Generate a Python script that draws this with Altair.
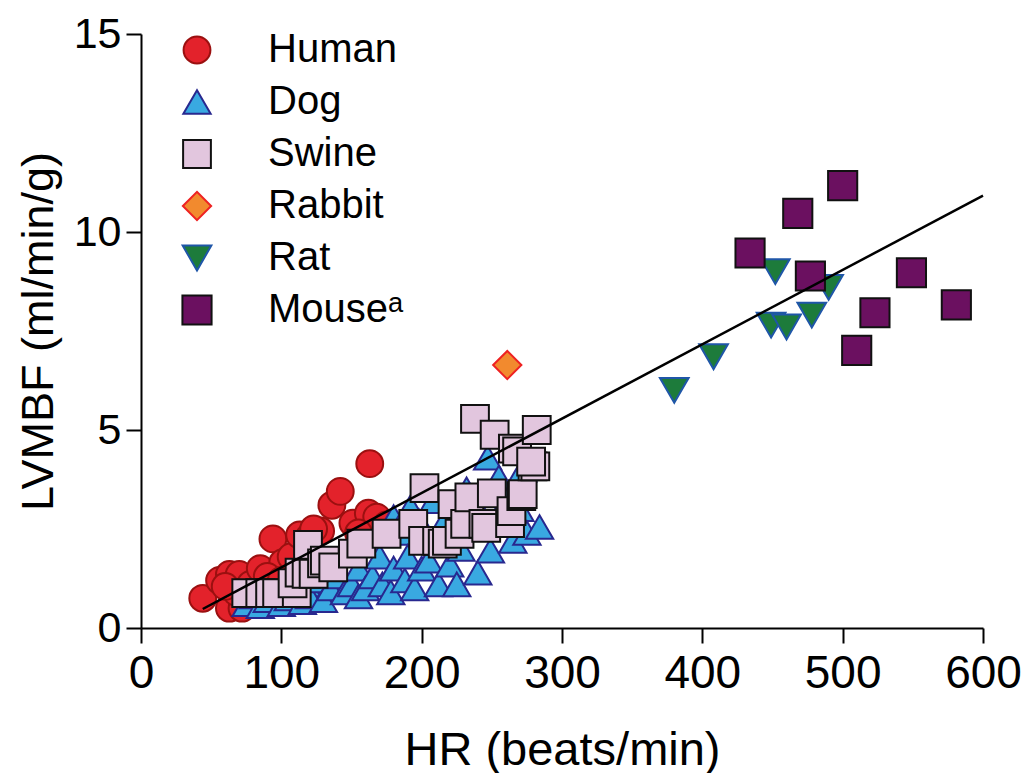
import altair as alt
import pandas as pd

species_order = ["Human", "Dog", "Swine", "Rabbit", "Rat", "Mouseᵃ"]

human_hr = [44, 56, 63, 70, 63, 72, 68, 78, 85, 94, 101, 107, 113, 120, 128, 136, 142, 151,
            163, 162, 168, 123, 90, 80, 155, 175, 100, 60]
human_mbf = [0.75, 1.2, 1.35, 1.35, 0.5, 0.5, 0.9, 1.1, 1.5, 2.25, 1.65, 1.8, 2.35, 2.3, 2.45,
             3.1, 3.45, 2.65, 4.15, 2.9, 2.8, 2.5, 1.3, 0.8, 2.4, 2.6, 1.2, 1.05]

dog_hr = [75, 80, 85, 90, 95, 100, 100, 105, 110, 115, 118, 120, 125, 130, 135, 140, 145, 150,
          155, 155, 160, 165, 170, 172, 178, 180, 185, 188, 190, 195, 198, 200, 205, 208, 210,
          212, 218, 220, 225, 228, 232, 235, 240, 242, 247, 249, 255, 258, 262, 265, 270, 272,
          275, 284, 180, 192]
dog_mbf = [0.6, 0.8, 0.55, 0.7, 0.9, 0.6, 1.0, 0.75, 0.9, 0.65, 1.1, 0.8, 1.2, 0.7, 1.0, 1.3,
           0.9, 1.1, 1.5, 0.8, 1.0, 1.3, 1.8, 1.1, 0.9, 1.5, 2.4, 1.2, 1.8, 1.0, 2.7, 1.5, 1.7,
           3.2, 2.2, 1.1, 2.8, 1.6, 1.1, 2.0, 3.5, 2.5, 1.4, 2.9, 4.3, 1.95, 3.8, 2.6, 3.3, 2.2,
           3.0, 4.0, 2.4, 2.55, 2.8, 3.05]

swine_hr = [75, 85, 92, 97, 111, 108, 113, 118, 123, 119, 129, 131, 137, 151, 157, 175, 194,
            201, 202, 211, 215, 218, 222, 227, 231, 234, 238, 244, 246, 250, 252, 263, 264, 265,
            268, 271, 272, 279, 281, 282, 278]
swine_mbf = [0.88, 0.88, 0.88, 0.88, 0.88, 1.13, 1.4, 1.37, 1.37, 2.1, 1.63, 1.7, 1.53, 1.88,
             2.13, 2.38, 2.63, 2.2, 3.53, 2.2, 2.13, 2.2, 3.13, 2.38, 2.63, 3.3, 5.28, 2.63,
             2.53, 3.4, 4.88, 2.65, 2.95, 4.53, 4.46, 3.33, 3.38, 4.08, 4.08, 5.0, 4.2]

rabbit_hr = [261]
rabbit_mbf = [6.64]

rat_hr = [380, 408, 452, 449, 460, 478, 490]
rat_mbf = [6.0, 6.85, 9.0, 7.65, 7.6, 7.9, 8.6]

mouse_hr = [434, 468, 500, 477, 549, 581, 523, 510]
mouse_mbf = [9.47, 10.47, 11.17, 8.89, 8.97, 8.16, 7.96, 7.01]

line_hr = [44, 600]
line_mbf = [0.48, 10.92]

fills = ["#e3222b", "#39a9e1", "#e2c6de", "#f28a2e", "#1d7b3b", "#6b1060"]
strokes = ["#9b1010", "#28288f", "#111111", "#ee2222", "#1f56a8", "#111111"]
shapes = ["circle", "triangle-up", "square", "diamond", "triangle-down", "square"]
sizes = [720, 850, 560, 900, 950, 560]

groups = [
    (species_order[0], human_hr, human_mbf),
    (species_order[1], dog_hr, dog_mbf),
    (species_order[2], swine_hr, swine_mbf),
    (species_order[3], rabbit_hr, rabbit_mbf),
    (species_order[4], rat_hr, rat_mbf),
    (species_order[5], mouse_hr, mouse_mbf),
]
rows = []
for name, hrs, vals in groups:
    for h, v in zip(hrs, vals):
        rows.append({"species": name, "hr": h, "mbf": v})
df = pd.DataFrame(rows)
line_df = pd.DataFrame({"hr": line_hr, "mbf": line_mbf})

FONT = "Liberation Sans"

legend = alt.Legend(
    orient="none", legendX=36, legendY=-4, title=None,
    labelFontSize=40, labelFont=FONT, labelColor="black", labelOffset=51,
    rowPadding=12, padding=0, symbolStrokeWidth=2, symbolOpacity=1,
)

x_enc = alt.X("hr:Q", scale=alt.Scale(domain=[0, 600], nice=False),
              axis=alt.Axis(values=[0, 100, 200, 300, 400, 500, 600], title="HR (beats/min)",
                            titleFontSize=47, titlePadding=31, labelPadding=8,
                            labelFlush=False, labelFontSize=46))
y_enc = alt.Y("mbf:Q", scale=alt.Scale(domain=[0, 15], nice=False),
              axis=alt.Axis(values=[0, 5, 10, 15], title="LVMBF (ml/min/g)",
                            titleFontSize=45, titlePadding=12, labelPadding=5,
                            labelFlush=False, labelFontSize=43))

points = alt.Chart(df).mark_point(filled=True, opacity=1, strokeWidth=2).encode(
    x=x_enc,
    y=y_enc,
    fill=alt.Fill("species:N", scale=alt.Scale(domain=species_order, range=fills), legend=legend),
    stroke=alt.Stroke("species:N", scale=alt.Scale(domain=species_order, range=strokes), legend=legend),
    shape=alt.Shape("species:N", scale=alt.Scale(domain=species_order, range=shapes), legend=legend),
    size=alt.Size("species:N", scale=alt.Scale(domain=species_order, range=sizes), legend=legend),
)

line = alt.Chart(line_df).mark_line(color="black", strokeWidth=2.5).encode(
    x="hr:Q", y="mbf:Q"
)

chart = alt.layer(points, line).properties(
    width=842, height=594,
    autosize=alt.AutoSizeParams(type="none"),
    padding={"left": 133, "top": 26, "right": 39, "bottom": 145},
).configure_view(stroke=None).configure_axis(
    grid=False, domainColor="black", domainWidth=2, tickColor="black", tickWidth=2,
    tickSize=15, labelFont=FONT, labelColor="black",
    titleFont=FONT, titleColor="black", titleFontWeight="normal",
)

chart.save("out.html", embed_options={"renderer": "svg", "actions": False})
